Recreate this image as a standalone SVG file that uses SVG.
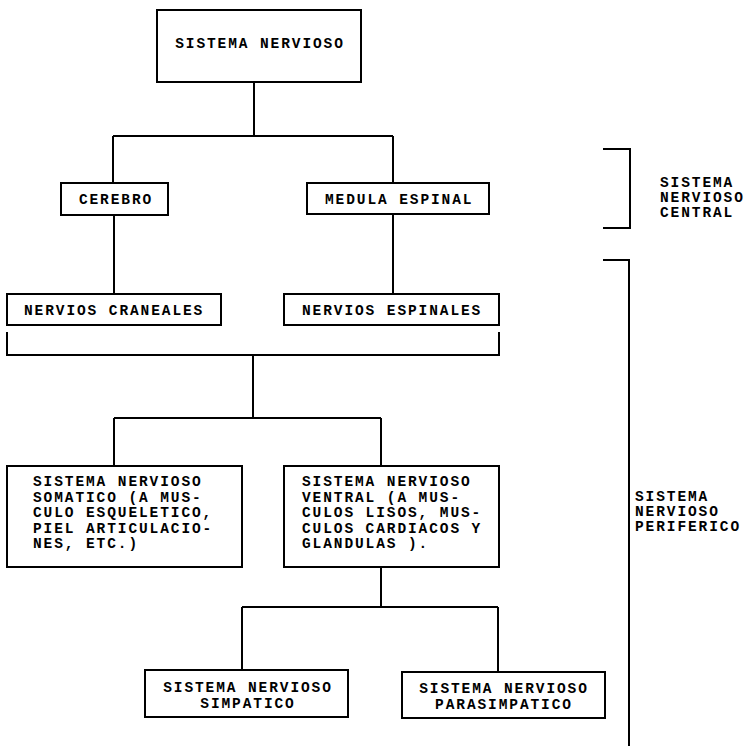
<svg xmlns="http://www.w3.org/2000/svg" width="746" height="746" viewBox="0 0 746 746">
<style>
.box{fill:#fff;stroke:#000;stroke-width:2}
.ln{fill:none;stroke:#000;stroke-width:2}
text{font-family:"Liberation Mono","Courier New",monospace;font-weight:bold;font-size:14.5px;letter-spacing:1.9px;fill:#000}
.c{text-anchor:middle}
</style>
<rect width="746" height="746" fill="#fff"/>
<g id="connectors">
<path class="ln" d="M254,82 V136 M113,136 H393 M113,136 V183 M393,136 V183"/>
<path class="ln" d="M114,215 V294 M393,214 V294"/>
<path class="ln" d="M7,332 V355 H499 V332 M253,355 V418 M114,418 H381 M114,418 V466 M381,418 V466"/>
<path class="ln" d="M381,567 V607 M242,607 H498 M242,607 V670 M498,607 V672"/>
<path class="ln" d="M603,149 H630 V228 H603"/>
<path class="ln" d="M603,260 H629 V746"/>
</g>
<g id="sistema-nervioso">
<rect class="box" x="157" y="10" width="204" height="72"/>
<text class="c" x="260" y="48">SISTEMA NERVIOSO</text>
</g>
<g id="cerebro">
<rect class="box" x="61" y="183" width="107" height="32"/>
<text class="c" x="116" y="204">CEREBRO</text>
</g>
<g id="medula">
<rect class="box" x="307" y="183" width="182" height="31"/>
<text x="325" y="204">MEDULA ESPINAL</text>
</g>
<g id="craneales">
<rect class="box" x="7" y="294" width="214" height="31"/>
<text x="24" y="315">NERVIOS CRANEALES</text>
</g>
<g id="espinales">
<rect class="box" x="284" y="294" width="215" height="31"/>
<text x="302" y="315">NERVIOS ESPINALES</text>
</g>
<g id="somatico">
<rect class="box" x="7" y="466" width="235" height="101"/>
<text x="33" y="486">SISTEMA NERVIOSO</text>
<text x="33" y="502">SOMATICO (A MUS-</text>
<text x="33" y="517">CULO ESQUELETICO,</text>
<text x="33" y="533">PIEL ARTICULACIO-</text>
<text x="33" y="548">NES, ETC.)</text>
</g>
<g id="ventral">
<rect class="box" x="284" y="466" width="215" height="101"/>
<text x="302" y="486">SISTEMA NERVIOSO</text>
<text x="302" y="502">VENTRAL (A MUS-</text>
<text x="302" y="517">CULOS LISOS, MUS-</text>
<text x="302" y="533">CULOS CARDIACOS Y</text>
<text x="302" y="548">GLANDULAS ).</text>
</g>
<g id="simpatico">
<rect class="box" x="145" y="670" width="203" height="47"/>
<text class="c" x="248" y="692">SISTEMA NERVIOSO</text>
<text class="c" x="248" y="708">SIMPATICO</text>
</g>
<g id="parasimpatico">
<rect class="box" x="402" y="672" width="203" height="46"/>
<text class="c" x="504" y="693">SISTEMA NERVIOSO</text>
<text class="c" x="504" y="709">PARASIMPATICO</text>
</g>
<g id="snc-label">
<text x="660" y="187">SISTEMA</text>
<text x="660" y="202">NERVIOSO</text>
<text x="660" y="217">CENTRAL</text>
</g>
<g id="snp-label">
<text x="635" y="501">SISTEMA</text>
<text x="635" y="516">NERVIOSO</text>
<text x="635" y="531">PERIFERICO</text>
</g>
</svg>
